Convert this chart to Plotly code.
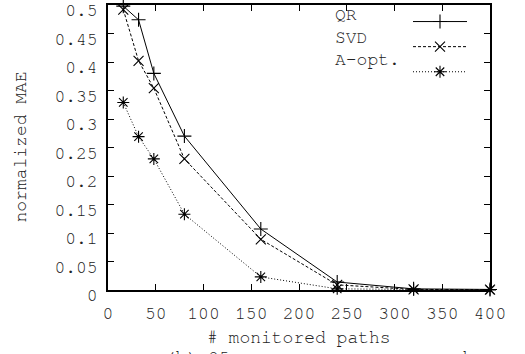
import plotly.graph_objects as go

x_paths = [16, 32, 48, 80, 160, 240, 320, 400]
qr = [0.498, 0.474, 0.380, 0.270, 0.107, 0.014, 0.002, 0.001]
svd = [0.492, 0.402, 0.354, 0.230, 0.089, 0.009, 0.001, 0.0005]
aopt = [0.329, 0.269, 0.230, 0.133, 0.023, 0.002, 0.001, 0.0003]
series_names = ["QR", "SVD", "A-opt."]
x_ticks = [0, 50, 100, 150, 200, 250, 300, 350, 400]
y_ticks = [0, 0.05, 0.1, 0.15, 0.2, 0.25, 0.3, 0.35, 0.4, 0.45, 0.5]
y_tick_text = ["0", "0.05", "0.1", "0.15", "0.2", "0.25", "0.3", "0.35", "0.4", "0.45", "0.5"]

FONT = "FreeMono"
FS = 18
TXT = "#222222"
W, H = 525, 354
ML, MR, MT, MB = 108, 35, 5, 64

fig = go.Figure()
styles = [
    ("solid", "cross-thin-open", qr),
    ("3px,2px", "x-thin-open", svd),
    ("1px,2px", "asterisk-open", aopt),
]
for name, (dash, sym, ys) in zip(series_names, styles):
    fig.add_trace(go.Scatter(
        x=x_paths, y=ys, name=" ", mode="lines+markers",
        line=dict(color="black", width=1, dash=dash),
        marker=dict(symbol=sym, size=10, color="black", line=dict(color="black", width=1.1)),
        cliponaxis=False,
    ))

axis_common = dict(
    showline=True, linecolor="black", linewidth=1.5, mirror="allticks",
    ticks="inside", ticklen=6, tickcolor="black", tickwidth=1,
    showgrid=False, zeroline=False, ticklabeloverflow="allow", automargin=False,
    tickfont=dict(family=FONT, size=FS, color=TXT),
)
fig.update_xaxes(range=[0, 400], tickvals=x_ticks, ticklabelstandoff=6, **axis_common)
fig.update_yaxes(range=[0, 0.5], tickvals=y_ticks, ticktext=y_tick_text, ticklabelstandoff=5,
                 ticklabelshift=5, **axis_common)

plot_h = H - MT - MB
plot_w = W - ML - MR

def px_to_paper_y(py):
    return (H - MB - py) / plot_h

def px_to_paper_x(px):
    return (px - ML) / plot_w

annotations = [
    dict(text="# monitored paths", x=0.5, y=px_to_paper_y(338), xref="paper", yref="paper",
         showarrow=False, font=dict(family=FONT, size=FS, color=TXT), xanchor="center", yanchor="middle"),
    dict(text="normalized MAE", x=px_to_paper_x(20), y=0.5, xref="paper", yref="paper", textangle=-90,
         showarrow=False, font=dict(family=FONT, size=FS, color=TXT), xanchor="center", yanchor="middle"),
    dict(text="(b) 25 sources, once covered", x=px_to_paper_x(163), y=px_to_paper_y(346.5), xref="paper", yref="paper",
         showarrow=False, font=dict(family=FONT, size=FS, color=TXT), xanchor="left", yanchor="top"),
]
legend_rows = [15, 38, 60]
for name, py in zip(series_names, legend_rows):
    annotations.append(dict(text=name, x=px_to_paper_x(333), y=px_to_paper_y(py), xref="paper", yref="paper",
                            showarrow=False, font=dict(family=FONT, size=FS, color=TXT),
                            xanchor="left", yanchor="middle"))

fig.update_layout(
    width=W, height=H,
    margin=dict(l=ML, r=MR, t=MT, b=MB, autoexpand=False),
    paper_bgcolor="white", plot_bgcolor="white",
    showlegend=True,
    legend=dict(x=px_to_paper_x(408), y=px_to_paper_y(4), xanchor="left", yanchor="top",
                bgcolor="rgba(0,0,0,0)", font=dict(family=FONT, size=17, color=TXT),
                itemwidth=54, tracegroupgap=0),
    annotations=annotations,
)

fig.write_html("out.html")
